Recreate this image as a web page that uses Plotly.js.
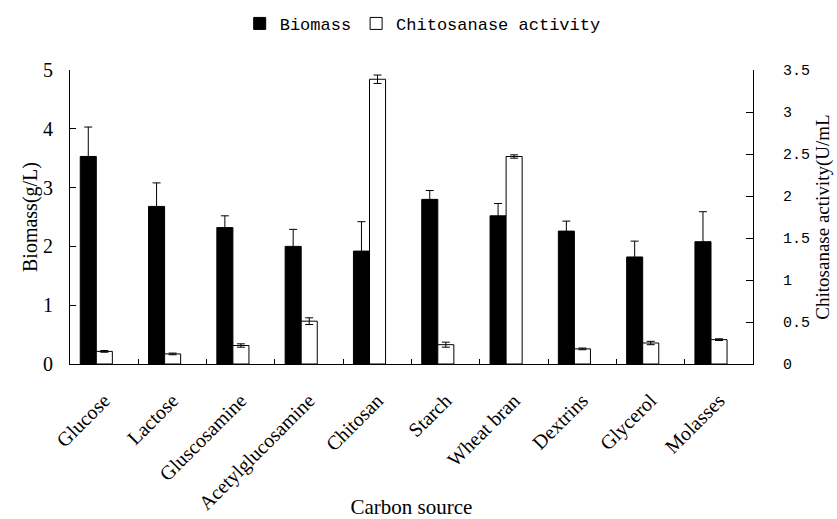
<!DOCTYPE html>
<html><head><meta charset="utf-8">
<script src="https://cdn.plot.ly/plotly-3.0.1.min.js"></script>
<style>html,body{margin:0;padding:0;background:#fff}#chart{width:837px;height:519px}</style>
</head><body><div id="chart"></div>
<script>
const categories = ["Glucose","Lactose","Gluscosamine","Acetylglucosamine","Chitosan","Starch","Wheat bran","Dextrins","Glycerol","Molasses"];
const biomass = [3.53,2.68,2.32,2.00,1.92,2.80,2.52,2.26,1.82,2.08];
const biomassErr = [0.50,0.40,0.20,0.29,0.50,0.15,0.21,0.17,0.27,0.51];
const activity = [0.15,0.12,0.22,0.51,3.39,0.23,2.47,0.18,0.25,0.29];
const activityErr = [0.01,0.01,0.02,0.04,0.05,0.03,0.02,0.01,0.02,0.01];
const seriesNames = ["Biomass","Chitosanase activity"];

const serif = "Liberation Serif, Times New Roman, serif";
const mono = "Liberation Mono, DejaVu Sans Mono, monospace";

const traces = [
  {type:"bar", name:seriesNames[0], x:categories, y:biomass, yaxis:"y",
   offset:-0.35, width:0.235,
   marker:{color:"#000", line:{color:"#000", width:1}},
   error_y:{type:"data", array:biomassErr, visible:true, color:"#000", thickness:1, width:4}},
  {type:"bar", name:seriesNames[1], x:categories, y:activity, yaxis:"y2",
   offset:-0.115, width:0.235,
   marker:{color:"#fff", line:{color:"#000", width:1}},
   error_y:{type:"data", array:activityErr, visible:true, color:"#000", thickness:1, width:4}}
];

const layout = {
  width:837, height:519,
  margin:{l:70, r:84, t:70, b:155},
  paper_bgcolor:"#fff", plot_bgcolor:"#fff",
  barmode:"overlay",
  showlegend:true,
  legend:{orientation:"h", xref:"container", x:0.505, xanchor:"center", yref:"container", y:0.954, yanchor:"middle",
          font:{family:mono, size:17, color:"#000"}, bgcolor:"rgba(0,0,0,0)"},
  xaxis:{type:"category", showline:true, linecolor:"#000", linewidth:1, mirror:false,
         ticks:"inside", ticklen:5, tickcolor:"#000", tickson:"boundaries",
         tickangle:-45, tickfont:{family:serif, size:20, color:"#000"},
         ticklabelstandoff:16, showgrid:false, zeroline:false,
         title:{text:"Carbon source", standoff:0, font:{family:serif, size:21, color:"#000"}}},
  yaxis:{range:[0,5], dtick:1, showline:true, linecolor:"#000", linewidth:1,
         ticks:"inside", ticklen:6, tickcolor:"#000", showgrid:false, zeroline:false,
         tickfont:{family:serif, size:20, color:"#000"}, ticklabelstandoff:12,
         title:{text:"Biomass(g/L)", standoff:0, font:{family:serif, size:20, color:"#000"}}},
  yaxis2:{range:[0,3.5], dtick:0.5, overlaying:"y", side:"right", showline:true, linecolor:"#000", linewidth:1,
          ticks:"inside", ticklen:7, tickcolor:"#000", showgrid:false, zeroline:false,
          tickfont:{family:mono, size:15, color:"#000"}, ticklabelstandoff:26,
          title:{text:"Chitosanase activity(U/mL", font:{family:serif, size:19, color:"#000"}}}
};

Plotly.newPlot("chart", traces, layout, {displayModeBar:false, staticPlot:true});
</script></body></html>
